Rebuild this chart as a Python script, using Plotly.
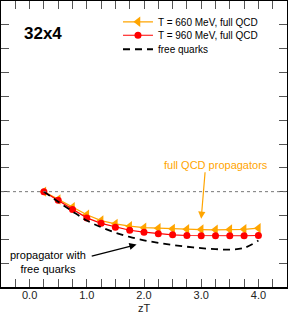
import plotly.graph_objects as go

zT = [0.25, 0.5, 0.75, 1.0, 1.25, 1.5, 1.75, 2.0, 2.25, 2.5, 2.75, 3.0, 3.25, 3.5, 3.75, 4.0]
t660 = [1.0, 0.967, 0.935, 0.903, 0.879, 0.865, 0.855, 0.849, 0.847, 0.844, 0.842, 0.841, 0.840, 0.841, 0.842, 0.847]
t660_err = [0.0, 0.004, 0.005, 0.006, 0.006, 0.007, 0.007, 0.007, 0.007, 0.007, 0.007, 0.007, 0.007, 0.007, 0.008, 0.009]
t960 = [1.0, 0.964, 0.925, 0.890, 0.867, 0.851, 0.838, 0.830, 0.823, 0.819, 0.816, 0.815, 0.815, 0.815, 0.815, 0.816]
t960_err = [0.0, 0.003, 0.004, 0.005, 0.005, 0.005, 0.005, 0.005, 0.005, 0.005, 0.006, 0.006, 0.006, 0.006, 0.006, 0.007]
free = [1.0, 0.958, 0.917, 0.879, 0.851, 0.828, 0.810, 0.796, 0.785, 0.776, 0.769, 0.763, 0.759, 0.757, 0.764, 0.795]

ORANGE = "#ffa500"
RED = "#ff0000"
FONT = "Liberation Sans, Arial, Helvetica, sans-serif"

fig = go.Figure()
fig.add_trace(go.Scatter(
    x=zT, y=t660, mode="lines+markers", name="T = 660 MeV, full QCD", legend="legend",
    line=dict(color=ORANGE, width=1.3),
    marker=dict(symbol="triangle-left", size=9, color=ORANGE),
    error_y=dict(type="data", array=t660_err, color=ORANGE, thickness=1.5, width=0),
))
fig.add_trace(go.Scatter(
    x=zT, y=t960, mode="lines+markers", name="T = 960 MeV, full QCD", legend="legend2",
    line=dict(color=RED, width=1.2),
    marker=dict(symbol="circle", size=7, color=RED),
    error_y=dict(type="data", array=t960_err, color=RED, thickness=1.5, width=0),
))
fig.add_trace(go.Scatter(
    x=zT, y=free, mode="lines", name="free quarks", legend="legend3",
    line=dict(color="black", width=1.8, dash="7px,5px", shape="spline"),
))

axis_common = dict(
    showline=True, linecolor="black", linewidth=1.5, mirror="ticks",
    ticks="inside", ticklen=8, tickcolor="#555", tickwidth=1.2,
    showgrid=False, zeroline=False, automargin=False,
)
fig.update_xaxes(
    range=[-0.5, 4.5], tickvals=[0, 1, 2, 3, 4],
    ticktext=["0.0", "1.0", "2.0", "3.0", "4.0"],
    minor=dict(dtick=0.25, tick0=0, ticks="inside", ticklen=8, tickcolor="#555", tickwidth=1.2, showgrid=False),
    tickfont=dict(size=11, color="#222"), ticklabelstandoff=-3,
    **axis_common,
)
fig.update_yaxes(
    range=[0.6, 1.8], dtick=0.1, tick0=0.6, showticklabels=False,
    **axis_common,
)

fig.add_shape(type="line", xref="paper", yref="y", x0=0, x1=1, y0=1.0, y1=1.0,
              line=dict(color="#777", width=1, dash="dot"))

# x-axis title
fig.add_annotation(x=0.5, y=-0.072, xref="paper", yref="paper", xanchor="center", yanchor="middle",
                   text="zT", showarrow=False, font=dict(size=11, color="#222", family=FONT))

fig.add_annotation(x=3.0, y=0.886, ax=3.07, ay=1.088, xref="x", yref="y", axref="x", ayref="y",
                   text="", showarrow=True, arrowhead=2, arrowsize=1.2, arrowwidth=1.2,
                   arrowcolor=ORANGE, standoff=0)
fig.add_annotation(x=3.25, y=1.112, xref="x", yref="y", text="full QCD propagators",
                   showarrow=False, font=dict(size=11, color=ORANGE, family=FONT))
fig.add_annotation(x=1.87, y=0.778, ax=1.06, ay=0.728, xref="x", yref="y", axref="x", ayref="y",
                   text="", showarrow=True, arrowhead=2, arrowsize=1.2, arrowwidth=1.2,
                   arrowcolor="black", standoff=0)
fig.add_annotation(x=0.32, y=0.707, xref="x", yref="y",
                   text="propagator with<br>free quarks", showarrow=False, align="center",
                   font=dict(size=11, color="black", family=FONT))
fig.add_annotation(x=0.072, y=0.888, xref="paper", yref="paper", xanchor="left", yanchor="middle",
                   text="<b>32x4</b>",
                   showarrow=False, font=dict(size=17, color="black", family=FONT))

leg_common = dict(x=0.409, xanchor="left", yanchor="top", bgcolor="rgba(0,0,0,0)",
                  font=dict(size=10, family=FONT), itemwidth=30, borderwidth=0)

fig.update_layout(
    width=288, height=313,
    margin=dict(l=1, r=1, t=1, b=26, autoexpand=False),
    paper_bgcolor="white", plot_bgcolor="white",
    font=dict(family=FONT, color="black"),
    showlegend=True,
    legend=dict(y=0.978, **leg_common),
    legend2=dict(y=0.931, **leg_common),
    legend3=dict(y=0.882, **leg_common),
)

fig.write_html("out.html", config={"displayModeBar": False},
               post_script="document.body.style.margin='0';document.body.style.padding='0';")
